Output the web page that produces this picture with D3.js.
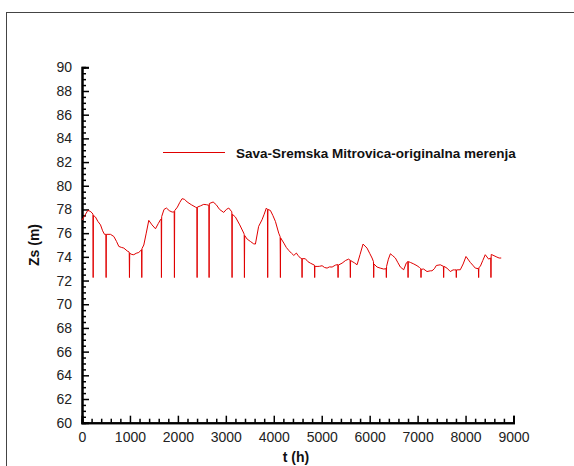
<!DOCTYPE html>
<html>
<head>
<meta charset="utf-8">
<script src="https://cdn.jsdelivr.net/npm/d3@7"></script>
<style>
  html, body { margin: 0; padding: 0; background: #fff; }
  svg { display: block; font-family: Arial, "Liberation Sans", sans-serif; }
</style>
</head>
<body>
<svg id="chart" width="574" height="466"></svg>
<script>
// ---- data ----
const seriesName = "Sava-Sremska Mitrovica-originalna merenja";
const xTicks = [0, 1000, 2000, 3000, 4000, 5000, 6000, 7000, 8000, 9000];
const yTicks = [60, 62, 64, 66, 68, 70, 72, 74, 76, 78, 80, 82, 84, 86, 88, 90];
const hours = [
  0, 60, 121, 170, 212, 228, 233, 238, 281, 330, 386, 430, 469, 498, 503, 508,
  594, 664, 720, 768, 820, 873, 942, 985, 990, 995, 1040, 1080, 1130, 1184, 1242, 1247,
  1252, 1289, 1340, 1393, 1460, 1533, 1590, 1636, 1652, 1657, 1662, 1710, 1761, 1820, 1880, 1923,
  1928, 1933, 1990, 2040, 2088, 2140, 2193, 2280, 2366, 2396, 2401, 2406, 2470, 2539, 2600, 2646,
  2651, 2656, 2735, 2800, 2870, 2956, 3010, 3061, 3125, 3130, 3135, 3200, 3290, 3374, 3383, 3388,
  3393, 3444, 3512, 3580, 3617, 3684, 3755, 3800, 3845, 3868, 3873, 3878, 3929, 3980, 4034, 4103,
  4133, 4138, 4143, 4210, 4260, 4313, 4370, 4418, 4471, 4510, 4555, 4585, 4590, 4595, 4659, 4710,
  4763, 4848, 4853, 4858, 4903, 4950, 5008, 5060, 5112, 5160, 5217, 5285, 5336, 5341, 5346, 5425,
  5500, 5563, 5592, 5597, 5602, 5632, 5680, 5737, 5800, 5862, 5945, 6000, 6050, 6079, 6084, 6089,
  6154, 6220, 6293, 6343, 6348, 6353, 6390, 6432, 6480, 6536, 6590, 6640, 6710, 6766, 6796, 6801,
  6806, 6849, 6920, 6988, 7040, 7066, 7071, 7076, 7126, 7196, 7265, 7300, 7350, 7390, 7473, 7538,
  7543, 7548, 7612, 7682, 7740, 7772, 7802, 7807, 7812, 7890, 7950, 8009, 8099, 8150, 8203, 8268,
  8273, 8278, 8307, 8360, 8411, 8481, 8525, 8530, 8535, 8550, 8654, 8700, 8744
];
const levels = [
  77.1, 77.5, 77.92, 77.85, 77.7, 77.6, 72.25, 77.5, 77.36, 77.0, 76.7, 76.2, 75.9, 75.9, 72.25, 75.9,
  75.9, 75.72, 75.3, 74.88, 74.8, 74.74, 74.5, 74.4, 72.25, 74.3, 74.2, 74.18, 74.3, 74.37, 74.6, 72.25,
  74.7, 75.0, 76.0, 77.08, 76.7, 76.37, 76.8, 77.13, 77.2, 72.25, 77.4, 78.0, 78.12, 77.9, 77.78, 77.8,
  72.25, 77.9, 78.2, 78.6, 78.91, 78.85, 78.63, 78.4, 78.2, 78.15, 72.25, 78.2, 78.3, 78.43, 78.4, 78.35,
  72.25, 78.5, 78.63, 78.4, 78.0, 77.75, 78.0, 78.12, 77.8, 72.25, 77.6, 77.36, 76.7, 76.0, 75.9, 72.25,
  75.8, 75.5, 75.3, 75.1, 75.08, 76.57, 77.13, 77.6, 78.12, 78.0, 72.25, 78.0, 77.92, 77.5, 76.99, 76.0,
  75.7, 72.25, 75.6, 75.16, 74.8, 74.54, 74.3, 74.12, 74.32, 74.1, 73.9, 73.85, 72.25, 73.85, 73.84, 73.6,
  73.47, 73.3, 72.25, 73.2, 73.19, 73.2, 73.25, 73.1, 73.05, 73.15, 73.14, 73.3, 73.35, 72.25, 73.3, 73.47,
  73.7, 73.81, 73.7, 72.25, 73.7, 73.61, 73.5, 73.33, 74.2, 75.08, 74.74, 74.3, 73.9, 73.6, 72.25, 73.4,
  73.14, 73.05, 72.97, 73.0, 72.25, 73.2, 73.8, 74.26, 74.1, 73.9, 73.5, 73.14, 72.91, 73.5, 73.6, 72.25,
  73.6, 73.53, 73.4, 73.25, 73.1, 73.0, 72.25, 72.95, 72.97, 72.76, 72.82, 72.82, 73.0, 73.27, 73.33, 73.2,
  72.25, 73.2, 73.05, 72.76, 72.9, 72.9, 72.9, 72.25, 72.9, 72.91, 73.4, 74.03, 73.53, 73.3, 73.05, 73.0,
  72.25, 73.1, 73.19, 73.7, 74.18, 73.81, 73.9, 72.25, 74.2, 74.18, 73.98, 73.9, 73.9
];

// ---- layout ----
const svg = d3.select("#chart");
const x = d3.scaleLinear().domain([0, 9000]).range([82, 513.5]);
const y = d3.scaleLinear().domain([60, 90]).range([422.7, 67.3]);
const fontFam = "Arial, 'Liberation Sans', sans-serif";

// outer frame
svg.append("rect")
  .attr("x", 6.5).attr("y", 12.5).attr("width", 600).attr("height", 500)
  .attr("fill", "none").attr("stroke", "#444").attr("stroke-width", 1);

// minor ticks
const yMinor = d3.range(60, 90.01, 0.5).filter(v => Math.abs(v % 2) > 1e-6);
const xMinor = d3.range(0, 9000.1, 200).filter(v => v % 1000 !== 0);

const gy = svg.append("g").attr("transform", "translate(82,0)");
gy.call(d3.axisLeft(y).tickValues(yMinor).tickSize(-4).tickFormat(""));
const gyMaj = svg.append("g").attr("transform", "translate(82,0)");
gyMaj.call(d3.axisLeft(y).tickValues(yTicks).tickSize(-7).tickPadding(10).tickFormat(d3.format("d")));

const gx = svg.append("g").attr("transform", "translate(0,422.7)");
gx.call(d3.axisBottom(x).tickValues(xMinor).tickSize(-4).tickFormat(""));
const gxMaj = svg.append("g").attr("transform", "translate(0,422.7)");
gxMaj.call(d3.axisBottom(x).tickValues(xTicks).tickSize(-7).tickPadding(9).tickFormat(d3.format("d")));

svg.selectAll(".domain").attr("stroke", "#000").attr("stroke-width", 2);
svg.selectAll(".tick line").attr("stroke", "#000").attr("stroke-width", 1.5);
svg.selectAll(".tick text").attr("fill", "#222").style("font-size", "14px")
  .style("font-family", fontFam);

// series
const pts = hours.map((h, i) => [h, levels[i]]);
const line = d3.line().x(d => x(d[0])).y(d => y(d[1]));
svg.append("path").datum(pts)
  .attr("d", line)
  .attr("fill", "none")
  .attr("stroke", "#e00000")
  .attr("stroke-width", 1)
  .attr("stroke-linejoin", "round");

// axis titles
svg.append("text")
  .attr("x", 296).attr("y", 461.5)
  .attr("text-anchor", "middle")
  .style("font-weight", "bold").style("font-size", "14px").style("font-family", fontFam).attr("fill", "#111")
  .text("t (h)");
svg.append("text")
  .attr("transform", "translate(39,245) rotate(-90)")
  .attr("text-anchor", "middle")
  .style("font-weight", "bold").style("font-size", "14px").style("font-family", fontFam).attr("fill", "#111")
  .text("Zs (m)");

// legend
svg.append("line")
  .attr("x1", 163).attr("x2", 225).attr("y1", 152.5).attr("y2", 152.5)
  .attr("stroke", "#e00000").attr("stroke-width", 1);
svg.append("text")
  .attr("x", 236).attr("y", 157.5)
  .style("font-weight", "bold").style("font-size", "13.5px").style("font-family", fontFam).attr("fill", "#111")
  .text(seriesName);
</script>
</body>
</html>
